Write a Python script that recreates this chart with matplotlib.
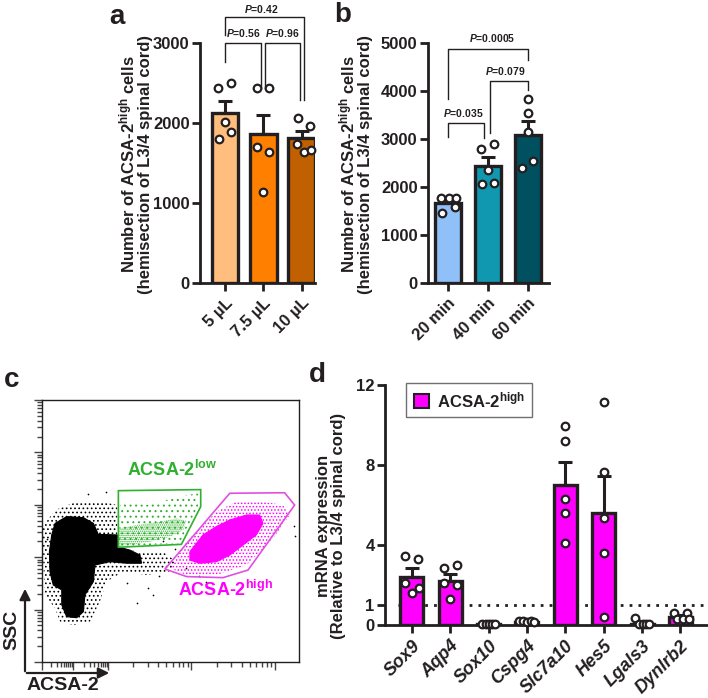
import numpy as np
import matplotlib
matplotlib.use('Agg')
import matplotlib.pyplot as plt
from matplotlib.patches import Polygon, Patch

TXT = '#231f20'
W, H = 708, 698

plt.rcParams.update({
    'font.family': 'Liberation Sans', 'font.weight': 'bold', 'font.size': 12,
    'mathtext.fontset': 'custom', 'mathtext.rm': 'Liberation Sans:bold',
    'mathtext.it': 'Liberation Sans:italic:bold', 'mathtext.bf': 'Liberation Sans:bold',
    'text.color': TXT, 'axes.edgecolor': TXT, 'axes.linewidth': 2,
    'xtick.color': TXT, 'ytick.color': TXT,
    'xtick.major.width': 2, 'ytick.major.width': 2,
    'xtick.major.size': 6, 'ytick.major.size': 6,
    'hatch.linewidth': 0.7,
})

# ---- panel a data ----
a_labels = ['5 µL', '7.5 µL', '10 µL']
a_means = [2120, 1860, 1810]
a_sem = [160, 245, 90]
a_points = [[2440, 2500, 2015, 1890, 1795],
            [2440, 2440, 1705, 1640, 1140],
            [2060, 1960, 1740, 1640, 1660]]
a_offsets = [[-0.17, 0.15, 0.0, 0.15, -0.15],
             [-0.17, 0.15, -0.17, 0.15, 0.0],
             [-0.1, 0.23, -0.11, 0.06, 0.25]]
a_colors = ['#ffbe7d', '#ff8000', '#c06000']
# (x1, x2, y, left leg end, right leg end, text, text x, text y)
a_brackets = [(0, 0.95, 3000, 2760, 2440, '0.56', 0.47, 3130),
              (1.05, 1.95, 3000, 2440, 2290, '0.96', 1.5, 3130),
              (0, 2.07, 3320, 3100, 2290, '0.42', 0.96, 3420)]

# ---- panel b data ----
b_labels = ['20 min', '40 min', '60 min']
b_means = [1660, 2440, 3090]
b_sem = [60, 190, 290]
b_points = [[1770, 1770, 1770, 1590, 1450],
            [2800, 2900, 2350, 2060, 2090],
            [3840, 3550, 3150, 2400, 2550]]
b_offsets = [[-0.18, 0.02, 0.21, 0.17, -0.14],
             [-0.17, 0.14, 0.0, -0.15, 0.14],
             [0.0, 0.0, 0.0, -0.15, 0.13]]
b_colors = ['#90c0f8', '#1098b0', '#005060']
b_brackets = [(0, 0.9, 3330, 3050, 3030, '0.035', 0.38, 3540),
              (1.05, 2.0, 4200, 3120, 4020, '0.079', 1.43, 4410),
              (0, 2.0, 4870, 3830, 4650, '0.0005', 1.1, 5100)]

# ---- panel d data ----
d_genes = ['Sox9', 'Aqp4', 'Sox10', 'Cspg4', 'Slc7a10', 'Hes5', 'Lgals3', 'Dynlrb2']
d_means = [2.42, 2.22, 0.05, 0.17, 7.0, 5.58, 0.05, 0.38]
d_sem = [0.41, 0.33, 0.02, 0.02, 1.17, 1.89, 0.05, 0.1]
d_points = [[3.45, 3.28, 2.08, 1.83, 1.58],
            [2.83, 3.0, 2.12, 2.0, 1.3],
            [0.06, 0.06, 0.06, 0.06, 0.06],
            [0.2, 0.18, 0.16, 0.18, 0.17],
            [9.97, 9.2, 6.28, 5.62, 4.08],
            [11.15, 7.63, 5.33, 3.58, 0.38],
            [0.33, 0.03, 0.03, 0.03, 0.03],
            [0.62, 0.62, 0.3, 0.28, 0.3]]
d_offsets = [[-0.17, 0.17, -0.17, 0.18, 0.0],
             [-0.15, 0.17, -0.15, 0.17, 0.0],
             [-0.17, -0.08, 0.0, 0.08, 0.17],
             [-0.2, -0.1, 0.0, 0.1, 0.18],
             [0, 0, 0, 0, 0],
             [0, 0, 0, 0, 0],
             [-0.18, -0.07, 0.02, 0.1, 0.19],
             [-0.17, 0.17, -0.09, 0.07, 0.22]]

# ---- panel c data (channel units 0-1000) ----
black_core = [(52, 529), (97, 555), (162, 551), (201, 529), (220, 487), (294, 485), (294, 440),
              (343, 427), (382, 408), (388, 377), (330, 377), (265, 383), (207, 370), (201, 307),
              (168, 256), (162, 192), (136, 169), (97, 173), (78, 218), (78, 275), (45, 294),
              (32, 345), (30, 421), (39, 485)]
black_halo = [(4, 517), (52, 580), (136, 612), (226, 614), (294, 599), (294, 434), (382, 421),
              (472, 421), (524, 383), (498, 345), (408, 332), (317, 345), (252, 307), (226, 230),
              (188, 154), (123, 141), (71, 154), (52, 205), (13, 256), (6, 383)]
black_out_x = [414, 369, 433, 640, 560, 250, 180, 20, 470, 700, 330, 455, 610, 520, 980, 985]
black_out_y = [281, 224, 256, 307, 360, 650, 640, 470, 460, 300, 300, 330, 330, 430, 520, 480]
green_gate = [(298, 654), (618, 658), (618, 593), (543, 449), (298, 438)]
green_core = [(301, 510), (369, 523), (446, 533), (524, 548), (563, 538), (550, 504),
              (498, 478), (420, 459), (343, 447), (301, 444)]
green_halo = [(304, 612), (408, 599), (563, 637), (608, 644), (608, 593), (563, 510),
              (537, 453), (301, 440)]
mag_gate = [(479, 355), (563, 326), (705, 322), (802, 351), (983, 599), (944, 646), (731, 644)]
mag_core = [(576, 421), (627, 485), (679, 517), (731, 542), (796, 561), (847, 561), (860, 529),
            (834, 485), (783, 447), (731, 408), (679, 383), (615, 377), (576, 389)]
mag_halo = [(498, 358), (563, 459), (679, 574), (757, 612), (860, 612), (938, 599), (964, 561),
            (899, 472), (796, 370), (679, 332), (563, 332)]

fig = plt.figure(figsize=(W / 100, H / 100), dpi=100)


def px_axes(l, t, r, b):
    return fig.add_axes([l / W, 1 - b / H, (r - l) / W, (b - t) / H])


def bar_panel(ax, labels, means, sems, pts, offs, colors, width, xsize=12):
    x = np.arange(len(labels))
    ax.bar(x, means, width=width, color=colors, edgecolor=TXT, linewidth=2.4, zorder=2)
    ax.errorbar(x, means, yerr=[np.zeros(len(x)), sems], fmt='none', ecolor=TXT,
                elinewidth=2.2, capsize=5, capthick=2.2, zorder=1.5)
    for i in range(len(x)):
        ax.scatter(x[i] + np.array(offs[i]), pts[i], s=30, facecolor='white',
                   edgecolor=TXT, linewidth=1.6, zorder=3, clip_on=False)
    ax.spines['top'].set_visible(False)
    ax.spines['right'].set_visible(False)
    ax.set_xticks(x)
    ax.set_xticklabels(labels, rotation=45, ha='right', rotation_mode='anchor',
                       fontsize=xsize)
    ax.tick_params(axis='y', labelsize=12, pad=1.5)
    ax.tick_params(axis='x', pad=3)


def brackets(ax, items):
    for x1, x2, y, yl, yr, t, tx, ty in items:
        ax.plot([x1, x1, x2, x2], [yl, y, y, yr], color=TXT, lw=1, clip_on=False)
        ax.text(tx, ty, r'$\mathit{P}$=' + t, ha='center', va='center', fontsize=7.5)


# panel a
ax_a = px_axes(200, 43, 315, 283)
bar_panel(ax_a, a_labels, a_means, a_sem, a_points, a_offsets, a_colors, 0.7)
ax_a.set_xlim(-0.65, 2.35)
ax_a.set_ylim(0, 3000)
ax_a.set_yticks([0, 1000, 2000, 3000])
brackets(ax_a, a_brackets)

# panel b
ax_b = px_axes(428, 43, 549, 283)
bar_panel(ax_b, b_labels, b_means, b_sem, b_points, b_offsets, b_colors, 0.65)
ax_b.set_xlim(-0.5, 2.525)
ax_b.set_ylim(0, 5000)
ax_b.set_yticks([0, 1000, 2000, 3000, 4000, 5000])
brackets(ax_b, b_brackets)

ylab = 'Number of ACSA-2$^{\\mathrm{high}}$ cells\n(hemisection of L3/4 spinal cord)'
fig.text(135 / W, 1 - 164 / H, ylab, rotation=90, ha='center', va='center',
         multialignment='center', fontsize=12, linespacing=1.05)
fig.text(355 / W, 1 - 164 / H, ylab, rotation=90, ha='center', va='center',
         multialignment='center', fontsize=12, linespacing=1.05)

# panel d
ax_d = px_axes(385, 385, 708, 625)
bar_panel(ax_d, d_genes, d_means, d_sem, d_points, d_offsets, ['#ff00ff'] * 8, 0.6,
          xsize=13)
ax_d.set_xlim(-0.7, 7.72)
ax_d.set_ylim(0, 12)
ax_d.set_yticks([0, 1, 4, 8, 12])
for lab in ax_d.get_xticklabels():
    lab.set_style('italic')
ax_d.axhline(1, xmin=0.04, xmax=1, color=TXT, lw=2, linestyle=(0, (1, 2.2)), zorder=1)
ax_d.legend(handles=[Patch(facecolor='#ff00ff', edgecolor=TXT, linewidth=1.5,
                           label='ACSA-2$^{\\mathrm{high}}$')],
            loc='upper left', bbox_to_anchor=(0.04, 1.045), fancybox=False,
            edgecolor='#707070', framealpha=1, handlelength=0.9, handleheight=0.9,
            handletextpad=0.5, borderpad=0.45, fontsize=12)
fig.text(331 / W, 1 - 526 / H, 'mRNA expression\n(Relative to L3/4 spinal cord)',
         rotation=90, ha='center', va='center', multialignment='center',
         fontsize=12, linespacing=1.05)

# panel c
ax_c = px_axes(41.7, 400, 299, 662)
ax_c.set_xlim(0, 1000)
ax_c.set_ylim(0, 1000)
for s in ax_c.spines.values():
    s.set_linewidth(1.0)
ax_c.add_patch(Polygon(black_halo, closed=True, facecolor='none', edgecolor='black',
                       linewidth=0, hatch='....', zorder=1))
ax_c.add_patch(Polygon(black_core, closed=True, facecolor='black', edgecolor='black',
                       linewidth=0.8, zorder=2))
ax_c.scatter(black_out_x, black_out_y, s=1.5, color='black', linewidths=0, zorder=2)
ax_c.add_patch(Polygon(green_halo, closed=True, facecolor='none', edgecolor='#30b030',
                       linewidth=0, hatch='...', zorder=3))
ax_c.add_patch(Polygon(green_core, closed=True, facecolor='none', edgecolor='#30b030',
                       linewidth=0, hatch='........', zorder=3))
ax_c.add_patch(Polygon(mag_halo, closed=True, facecolor='none', edgecolor='#ff00ff',
                       linewidth=0, hatch='.....', zorder=3))
ax_c.add_patch(Polygon(mag_core, closed=True, facecolor='#ff00ff', edgecolor='#ff00ff',
                       linewidth=0.8, zorder=3))
ax_c.add_patch(Polygon(green_gate, closed=True, facecolor='none', edgecolor='#30b030',
                       linewidth=1.2, zorder=4))
ax_c.add_patch(Polygon(mag_gate, closed=True, facecolor='none', edgecolor='#e050e0',
                       linewidth=1.2, zorder=4))
ax_c.text(330, 733, 'ACSA-2$^{\\mathrm{low}}$', color='#30b030', fontsize=13,
          ha='left', va='center')
ax_c.text(530, 275, 'ACSA-2$^{\\mathrm{high}}$', color='#ff00ff', fontsize=13,
          ha='left', va='center')

# log-style ticks of the cytometer axes
y_major = [0, 200, 400, 600, 800, 1000]
y_minor = [d + 200 * np.log10(m) for d in y_major[:-1] for m in range(2, 10)]
x_dec = [(0, 123), (123, 259), (259, 582), (582, 906), (906, 1229)]
x_major = [0, 123, 259, 582, 906]
x_minor = [a + (b - a) * np.log10(m) for a, b in x_dec for m in range(2, 10)]
x_minor = [v for v in x_minor if v <= 1000]
ax_c.set_xticks(x_major)
ax_c.set_xticks(x_minor, minor=True)
ax_c.set_yticks(y_major)
ax_c.set_yticks(y_minor, minor=True)
ax_c.tick_params(which='both', labelbottom=False, labelleft=False, width=1,
                 color='#444444')
ax_c.tick_params(which='major', length=6)
ax_c.tick_params(which='minor', length=3.5)

# axis arrows and names
fig.add_artist(matplotlib.patches.FancyArrowPatch(
    (25 / W, 1 - 674 / H), (25 / W, 1 - 586 / H), transform=fig.transFigure,
    arrowstyle='-|>', mutation_scale=16, lw=1.6, color=TXT))
fig.add_artist(matplotlib.patches.FancyArrowPatch(
    (24 / W, 1 - 673 / H), (112 / W, 1 - 673 / H), transform=fig.transFigure,
    arrowstyle='-|>', mutation_scale=16, lw=1.6, color=TXT))
fig.text(12 / W, 1 - 630 / H, 'SSC', rotation=90, ha='center', va='center', fontsize=14)
fig.text(63 / W, 1 - 686 / H, 'ACSA-2', ha='center', va='center', fontsize=14)

# panel letters
for lt, xp, yp in [('a', 117, 17), ('b', 343, 15), ('c', 12, 380), ('d', 317, 375)]:
    fig.text(xp / W, 1 - yp / H, lt, ha='center', va='center', fontsize=20)

fig.savefig('out.png', dpi=100)
